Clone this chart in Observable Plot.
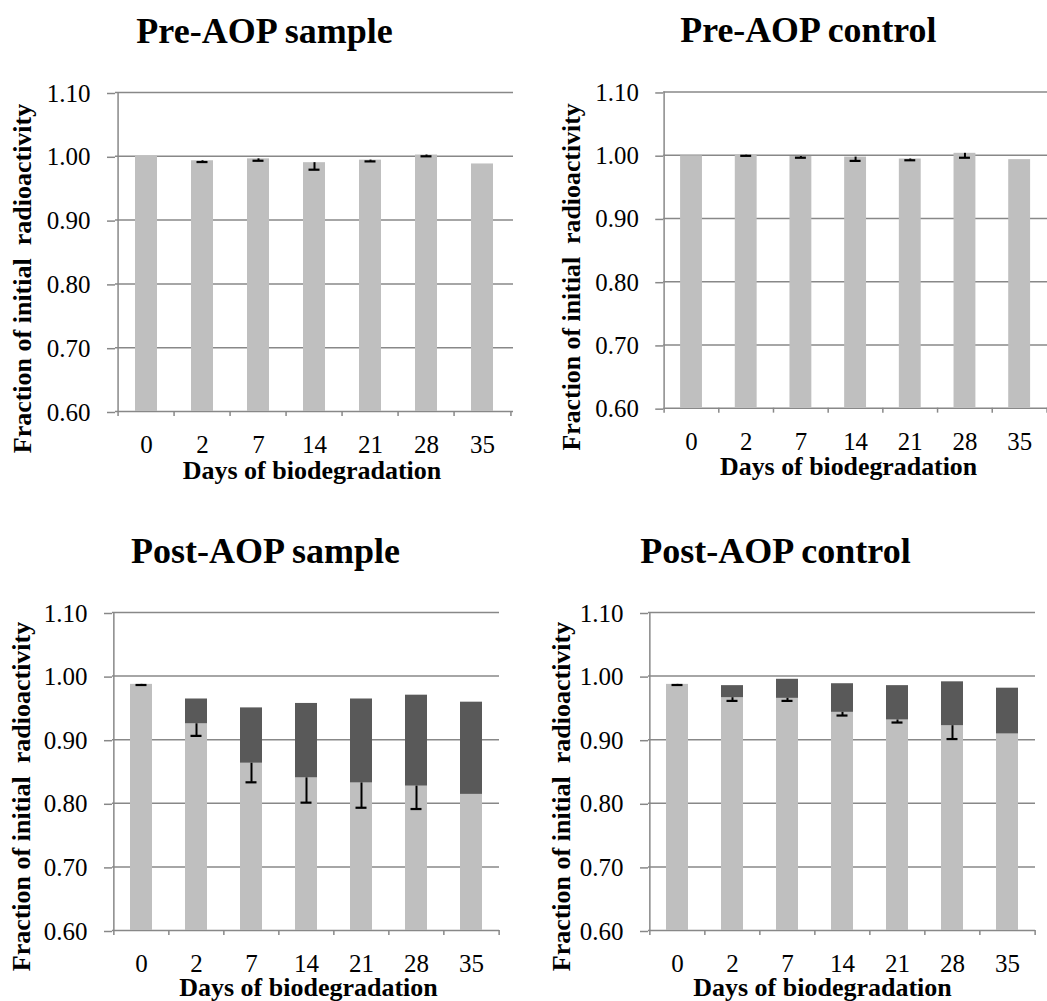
<!DOCTYPE html>
<html>
<head>
<meta charset="utf-8">
<script src="https://cdn.jsdelivr.net/npm/d3@7"></script>
<script src="https://cdn.jsdelivr.net/npm/@observablehq/plot@0.6"></script>
<style>
  html, body { margin: 0; padding: 0; background: #fff; overflow: hidden; }
  #chart { position: relative; width: 1047px; height: 1001px; overflow: hidden; background: #fff; }
  .panel { position: absolute; }
  .panel svg { overflow: visible; }
  .panel svg, .panel svg text, .panel svg g {
    font-family: "Liberation Serif", "Times New Roman", Times, serif !important;
  }
  .panel svg text { white-space: pre; }
</style>
</head>
<body>
<div id="chart"></div>
<script>
// Sampling days (categories on the x axis)
const days = ["0", "2", "7", "14", "21", "28", "35"];
const yTicks = [0.6, 0.7, 0.8, 0.9, 1.0, 1.1];

// Pre-AOP sample: fraction of initial radioactivity and error
const preSampleBase = [1.000, 0.993, 0.996, 0.990, 0.994, 1.002, 0.988];
const preSampleErr  = [null, 0.002, 0.003, 0.011, 0.002, 0.002, null];

// Pre-AOP control
const preControlBase = [0.999, 1.000, 0.998, 0.997, 0.994, 1.003, 0.993];
const preControlErr  = [null, 0.001, 0.002, 0.006, 0.002, 0.007, null];

// Post-AOP sample: lower (light) segment, stacked (dark) segment, error
const postSampleBase  = [0.987, 0.925, 0.863, 0.840, 0.832, 0.827, 0.814];
const postSampleUpper = [0.000, 0.039, 0.087, 0.117, 0.132, 0.143, 0.145];
const postSampleErr   = [0.001, 0.019, 0.030, 0.039, 0.039, 0.036, null];

// Post-AOP control
const postControlBase  = [0.987, 0.966, 0.965, 0.943, 0.931, 0.922, 0.909];
const postControlUpper = [0.000, 0.019, 0.030, 0.045, 0.054, 0.069, 0.072];
const postControlErr   = [0.001, 0.005, 0.004, 0.005, 0.004, 0.021, null];

const titles = ["Pre-AOP sample", "Pre-AOP control", "Post-AOP sample", "Post-AOP control"];
const yLabel = "Fraction of initial  radioactivity";
const xLabel = "Days of biodegradation";

const LIGHT = "#bfbfbf";
const DARK = "#595959";
const GRID = "#888888";
const FONT = "Liberation Serif, Times New Roman, Times, serif";

const panels = [
  {title: titles[0], base: preSampleBase, upper: null, err: preSampleErr,
   left: 0, top: 0, width: 520, height: 500, mL: 115, mR: 7, mT: 92, mB: 89,
   titleAt: [264, 42], yLabelAt: [30, 278], xLabelAt: [311.5, 478]},
  {title: titles[1], base: preControlBase, upper: null, err: preControlErr,
   left: 520, top: 0, width: 530, height: 500, mL: 144, mR: 0, mT: 92, mB: 90,
   titleAt: [809.5, 42], yLabelAt: [580, 278], xLabelAt: [850, 477]},
  {title: titles[2], base: postSampleBase, upper: postSampleUpper, err: postSampleErr,
   left: 0, top: 500, width: 520, height: 501, mL: 112, mR: 21, mT: 112, mB: 71,
   titleAt: [265, 562], yLabelAt: [29.5, 796], xLabelAt: [308, 995]},
  {title: titles[3], base: postControlBase, upper: postControlUpper, err: postControlErr,
   left: 520, top: 500, width: 527, height: 501, mL: 128, mR: 12, mT: 112, mB: 71,
   titleAt: [775, 562], yLabelAt: [569.5, 796], xLabelAt: [822, 995]}
];

function drawPanel(p) {
  const rows = days.flatMap((d, i) => [
    {day: d, part: "base", value: p.base[i]},
    {day: d, part: "upper", value: p.upper ? p.upper[i] : 0}
  ]);
  const errRows = days
    .map((d, i) => ({day: d, top: p.base[i], err: p.err[i]}))
    .filter(r => r.err != null);
  const step = (p.width - p.mL - p.mR) / days.length;
  // text offsets relative to the top-left corner of the plot frame
  const rel = ([x, y]) => ({dx: x - p.left - p.mL, dy: y - p.top - p.mT});

  const svg = Plot.plot({
    width: p.width,
    height: p.height,
    marginLeft: p.mL,
    marginRight: p.mR,
    marginTop: p.mT,
    marginBottom: p.mB,
    style: {fontFamily: FONT, fontSize: "25px", color: "black", background: "transparent", overflow: "visible"},
    x: {type: "band", domain: days, paddingInner: 0.6, paddingOuter: 0.3, align: 0.5},
    y: {domain: [0.6, 1.1]},
    color: {domain: ["base", "upper"], range: [LIGHT, DARK]},
    marks: [
      // horizontal gridlines (the 0.60 line doubles as the category axis)
      Plot.ruleY(yTicks, {stroke: GRID, strokeWidth: 1.5}),
      // value axis line at the left edge of the first category
      Plot.ruleX([days[0]], {stroke: GRID, strokeWidth: 1.5, dx: -step / 2}),
      // category boundary tick marks below the axis
      Plot.ruleX(days, {y1: 0.6, y2: 0.6, insetBottom: -5, dx: -step / 2, stroke: GRID, strokeWidth: 1.5}),
      Plot.ruleX([days[days.length - 1]], {y1: 0.6, y2: 0.6, insetBottom: -5, dx: step / 2, stroke: GRID, strokeWidth: 1.5}),
      // stacked bars
      Plot.barY(rows, {x: "day", y: "value", fill: "part", clip: true}),
      // error bars (minus direction) on the lower segment
      Plot.ruleX(errRows, {x: "day", y1: "top", y2: d => d.top - d.err, stroke: "black", strokeWidth: 2}),
      Plot.tickY(errRows, {x: "day", y: d => d.top - d.err, inset: 5.5, stroke: "black", strokeWidth: 2.2}),
      // axes
      Plot.axisY({ticks: yTicks, tickFormat: d3.format(".2f"), tickSize: 8, tickPadding: 17,
                  stroke: GRID, strokeWidth: 1.5, fill: "black", label: null, dy: 1,
                  fontFamily: FONT, fontSize: 25}),
      Plot.axisX({tickSize: 0, tickPadding: 24, fill: "black", label: null,
                  fontFamily: FONT, fontSize: 25}),
      // title
      Plot.text([p.title], {frameAnchor: "top-left", ...rel(p.titleAt), textAnchor: "middle",
                            lineAnchor: "bottom", fontSize: 36, fontWeight: "bold", fill: "black", fontFamily: FONT}),
      // value axis title
      Plot.text([yLabel], {frameAnchor: "top-left", ...rel(p.yLabelAt), rotate: -90, textAnchor: "middle",
                           lineAnchor: "bottom", fontSize: 26, fontWeight: "bold", fill: "black", fontFamily: FONT}),
      // category axis title
      Plot.text([xLabel], {frameAnchor: "top-left", ...rel(p.xLabelAt), textAnchor: "middle",
                           lineAnchor: "bottom", fontSize: 26, fontWeight: "bold", fill: "black", fontFamily: FONT})
    ]
  });

  const div = document.createElement("div");
  div.className = "panel";
  div.style.left = p.left + "px";
  div.style.top = p.top + "px";
  div.appendChild(svg);
  document.getElementById("chart").appendChild(div);
}

panels.forEach(drawPanel);
</script>
</body>
</html>
